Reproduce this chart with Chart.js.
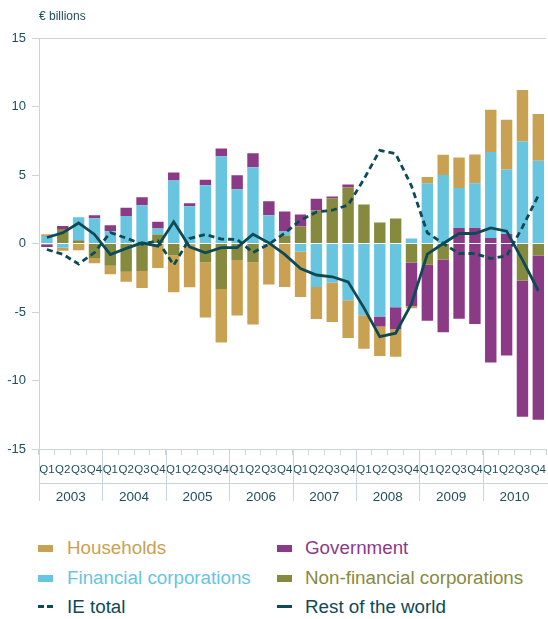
<!DOCTYPE html>
<html>
<head>
<meta charset="utf-8">
<script src="https://cdn.jsdelivr.net/npm/chart.js@4.4.1/dist/chart.umd.min.js"></script>
<style>
body{margin:0;width:548px;height:619px;overflow:hidden;background:#fff;position:relative;font-family:'Liberation Sans',Arial,sans-serif}
#grafico{position:absolute;left:0;top:0}
.unidad{position:absolute;left:39px;top:9px;font-size:12px;color:#1f4f5b;font-family:'Liberation Sans Narrow','Liberation Sans',Arial,sans-serif}
.leyenda{position:absolute;font-size:18.8px;line-height:20px;white-space:nowrap}
.caja{position:absolute;width:15px;height:7px}
.raya{position:absolute;height:3px;background:#0d4a55}
</style>
</head>
<body>
<canvas id="grafico" width="554" height="520"></canvas>
<div class="unidad">€ billions</div>

<div class="caja" style="left:38px;top:545px;background:#c9a153"></div>
<div class="leyenda" style="left:67px;top:538px;color:#c9a153">Households</div>
<div class="caja" style="left:277px;top:545px;background:#8b3a86"></div>
<div class="leyenda" style="left:305px;top:538px;color:#8b3a86">Government</div>

<div class="caja" style="left:38px;top:575px;background:#67c5e0"></div>
<div class="leyenda" style="left:67px;top:568px;color:#67c5e0">Financial corporations</div>
<div class="caja" style="left:277px;top:575px;background:#868a3f"></div>
<div class="leyenda" style="left:305px;top:568px;color:#868a3f">Non-financial corporations</div>

<div class="raya" style="left:38px;top:605px;width:6px"></div>
<div class="raya" style="left:47px;top:605px;width:6px"></div>
<div class="leyenda" style="left:67px;top:597px;color:#0d4a55">IE total</div>
<div class="raya" style="left:277px;top:605px;width:15px"></div>
<div class="leyenda" style="left:305px;top:597px;color:#0d4a55">Rest of the world</div>

<script>
// datos, 2003 Q1 a 2010 Q4 (miles de millones de euros)
const anios = ['2003','2004','2005','2006','2007','2008','2009','2010']
const trimestres = ['Q1','Q2','Q3','Q4']

const noFinancieras = [-0.08,1.05,0.24,-1.05, -1.63,-2.07,-2.0,0.66, -0.85,-0.05,-1.36,-3.33, -1.21,-1.36,0,0.58,
  1.24,2.4,3.28,4.08, 2.84,1.53,1.82,-1.38, -1.53,-1.17,0,0, 0,0,-2.7,-0.87]
const financieras = [0.55,-0.29,1.68,1.85, 0.9,2.0,2.8,0.44, 4.6,2.72,4.25,6.36, 3.96,5.56,2.06,0.29,
  -0.58,-3.18,-2.84,-4.15, -5.24,-5.32,-4.66,0.36, 4.4,5.0,2.91,3.25, 6.26,4.7,7.45,6.04]
const gobierno = [-0.18,0.22,0,0.22, 0.44,0.61,0.58,0.49, 0.58,0.22,0.41,0.58, 1.02,1.02,1.02,1.46,
  0.87,0.87,0.15,0.22, 0,-0.73,-1.6,-3.2, -4.1,-5.3,-5.5,-5.87, -8.69,-8.18,-9.95,-12.0]
// parte del gobierno que en el original queda debajo de las financieras (2009-2010)
const gobiernoBajo = [0,0,0,0, 0,0,0,0, 0,0,0,0, 0,0,0,0,
  0,0,0,0, 0,0,0,0, 0,0,1.14,1.14, 0.41,0.7,0,0]
const hogares = [0.12,-0.24,-0.49,-0.39, -0.61,-0.73,-1.24,-1.78, -2.7,-3.15,-4.05,-3.9, -4.05,-4.56,-3.0,-3.18,
  -3.33,-2.33,-2.89,-2.74, -2.45,-2.16,-2.01,-0.15, 0.46,1.48,2.23,2.1, 3.1,3.64,3.76,3.42]
const restoMundo = [0.44,0.78,1.5,0.66, -0.8,-0.36,0.05,-0.2, 1.58,-0.24,-0.68,-0.3, -0.3,0.68,0.05,-0.8,
  -1.82,-2.3,-2.43,-2.8, -4.7,-6.8,-6.55,-4.4, -0.78,0.0,0.73,0.73, 1.14,0.9,-1.2,-3.45]
const totalIE = [-0.44,-0.78,-1.5,-0.66, 0.8,0.39,-0.05,0.2, -1.58,0.36,0.66,0.32, 0.3,-0.66,-0.05,0.75,
  1.7,2.3,2.43,2.8, 4.7,6.8,6.55,4.2, 0.78,0.0,-0.73,-0.73, -1.1,-0.9,1.2,3.5]

const colorEje = '#c8d6da'
const colorTexto = '#1f4f5b'
const colorLinea = '#0d4a55'
const fuenteEje = "'Liberation Sans Narrow','Liberation Sans',Arial,sans-serif"

const etiquetas = []
anios.forEach(() => trimestres.forEach(q => etiquetas.push(q)))

// linea de separacion y nombre de cada anio debajo de los trimestres
const bandaAnios = {
  id: 'bandaAnios',
  afterDraw(chart) {
    const ctx = chart.ctx
    const x = chart.scales.x
    const paso = x.getPixelForValue(1) - x.getPixelForValue(0)
    const y0 = chart.chartArea.bottom
    ctx.save()
    ctx.strokeStyle = colorEje
    ctx.lineWidth = 1
    ctx.beginPath()
    ctx.moveTo(x.left, y0 + 34.5)
    ctx.lineTo(chart.width, y0 + 34.5)
    anios.forEach((a, i) => {
      const xi = Math.round(x.getPixelForValue(i * 4) - paso / 2) + 0.5
      ctx.moveTo(xi, y0)
      ctx.lineTo(xi, y0 + 52)
    })
    ctx.stroke()
    ctx.fillStyle = colorTexto
    ctx.font = "13.5px " + fuenteEje
    ctx.textAlign = 'center'
    ctx.textBaseline = 'middle'
    anios.forEach((a, i) => {
      const xc = (x.getPixelForValue(i * 4) + x.getPixelForValue(i * 4 + 3)) / 2
      ctx.fillText(a, xc, y0 + 48)
    })
    ctx.restore()
  }
}

function barra(nombre, datos, color) {
  return { type: 'bar', label: nombre, data: datos, backgroundColor: color, stack: 'sectores', order: 1,
    barPercentage: 0.72, categoryPercentage: 1 }
}

const canvas = document.getElementById('grafico')
const grafico = new Chart(canvas, {
  data: {
    labels: etiquetas,
    datasets: [
      { type: 'line', label: 'IE total', data: totalIE, borderColor: colorLinea, borderWidth: 2.8,
        borderDash: [6, 4], pointRadius: 0, tension: 0, stack: 'ie', order: 0 },
      { type: 'line', label: 'Rest of the world', data: restoMundo, borderColor: colorLinea, borderWidth: 2.8,
        pointRadius: 0, tension: 0, stack: 'rm', order: 0 },
      barra('Non-financial corporations', noFinancieras, '#868a3f'),
      barra('Government', gobiernoBajo, '#8b3a86'),
      barra('Financial corporations', financieras, '#67c5e0'),
      barra('Government', gobierno, '#8b3a86'),
      barra('Households', hogares, '#c9a153')
    ]
  },
  options: {
    responsive: false,
    animation: false,
    layout: { padding: { top: 38, right: 1, left: 0, bottom: 0 } },
    plugins: { legend: { display: false }, tooltip: { enabled: false } },
    scales: {
      x: {
        stacked: true,
        grid: { offset: true, drawOnChartArea: false, color: colorEje, tickLength: 6 },
        border: { color: colorEje },
        ticks: { color: colorTexto, font: { family: fuenteEje, size: 11.5 }, autoSkip: false, maxRotation: 0, padding: 8 },
        afterFit(s) { s.height = 71 }
      },
      y: {
        stacked: true,
        min: -15,
        max: 15,
        ticks: { stepSize: 5, color: colorTexto, font: { family: fuenteEje, size: 13, weight: '500' }, padding: 6 },
        grid: {
          color: c => (c.tick && c.tick.value === 15) ? colorEje : 'rgba(0,0,0,0)',
          tickColor: colorEje,
          tickLength: 7
        },
        border: { color: colorEje },
        afterFit(s) { s.width = 39 }
      }
    }
  },
  plugins: [bandaAnios]
})
</script>
</body>
</html>
